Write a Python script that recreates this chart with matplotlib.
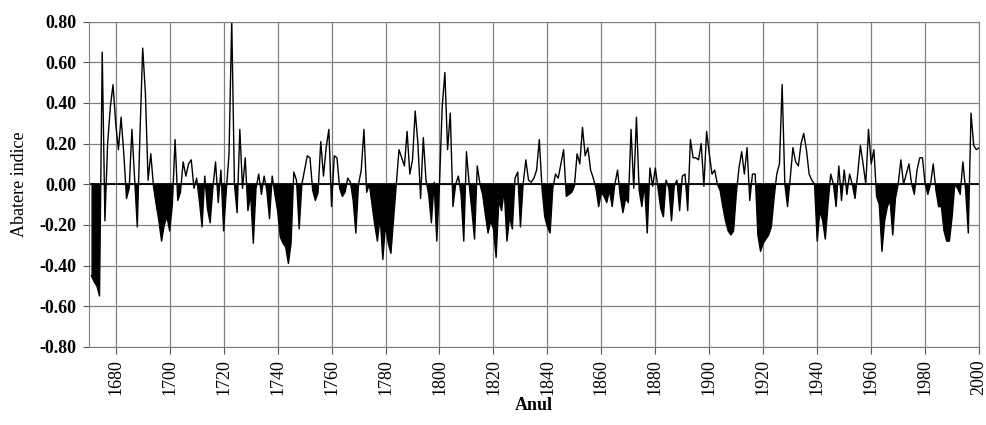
import numpy as np
import matplotlib
matplotlib.use("Agg")
import matplotlib.pyplot as plt

# Annual index deviation, 1671-2000
START_YEAR = 1671
END_YEAR = 2000

DEVIATION = [
    # 1671-1680
    -0.45, -0.48, -0.50, -0.55, 0.65, -0.18, 0.20, 0.38, 0.49, 0.30,
    # 1681-1690
    0.17, 0.33, 0.15, -0.07, -0.02, 0.27, 0.03, -0.21, 0.25, 0.67,
    # 1691-1700
    0.45, 0.02, 0.15, -0.01, -0.10, -0.18, -0.28, -0.20, -0.16, -0.23,
    # 1701-1710
    -0.10, 0.22, -0.08, -0.04, 0.11, 0.04, 0.10, 0.12, -0.02, 0.03,
    # 1711-1720
    -0.08, -0.21, 0.04, -0.12, -0.19, -0.02, 0.11, -0.09, 0.07, -0.23,
    # 1721-1730
    -0.03, 0.15, 0.81, 0.00, -0.14, 0.27, -0.02, 0.13, -0.13, -0.05,
    # 1731-1740
    -0.29, -0.02, 0.05, -0.05, 0.04, -0.03, -0.17, 0.04, -0.05, -0.13,
    # 1741-1750
    -0.26, -0.29, -0.31, -0.39, -0.29, 0.06, 0.02, -0.22, 0.00, 0.07,
    # 1751-1760
    0.14, 0.13, -0.03, -0.08, -0.04, 0.21, 0.04, 0.18, 0.27, -0.11,
    # 1761-1770
    0.14, 0.13, -0.02, -0.06, -0.04, 0.03, 0.01, -0.08, -0.24, 0.00,
    # 1771-1780
    0.07, 0.27, -0.04, 0.00, -0.10, -0.20, -0.28, -0.16, -0.37, -0.20,
    # 1781-1790
    -0.29, -0.34, -0.17, 0.00, 0.17, 0.13, 0.09, 0.26, 0.05, 0.12,
    # 1791-1800
    0.36, 0.20, -0.07, 0.23, 0.02, -0.05, -0.19, 0.01, -0.28, 0.00,
    # 1801-1810
    0.38, 0.55, 0.17, 0.35, -0.11, 0.00, 0.04, -0.05, -0.28, 0.16,
    # 1811-1820
    0.00, -0.13, -0.27, 0.09, 0.00, -0.05, -0.15, -0.24, -0.18, -0.22,
    # 1821-1830
    -0.36, -0.08, -0.13, -0.03, -0.28, -0.16, -0.22, 0.03, 0.06, -0.21,
    # 1831-1840
    0.00, 0.12, 0.02, 0.01, 0.03, 0.07, 0.22, -0.02, -0.16, -0.21,
    # 1841-1850
    -0.24, -0.02, 0.05, 0.03, 0.10, 0.17, -0.06, -0.05, -0.04, -0.01,
    # 1851-1860
    0.15, 0.10, 0.28, 0.14, 0.18, 0.07, 0.03, -0.02, -0.11, -0.04,
    # 1861-1870
    -0.06, -0.09, -0.03, -0.11, 0.00, 0.07, -0.06, -0.14, -0.07, -0.09,
    # 1871-1880
    0.27, -0.02, 0.33, -0.03, -0.11, 0.00, -0.24, 0.08, -0.01, 0.08,
    # 1881-1890
    -0.02, -0.12, -0.16, 0.02, -0.02, -0.18, -0.01, 0.02, -0.13, 0.04,
    # 1891-1900
    0.05, -0.13, 0.22, 0.13, 0.13, 0.12, 0.20, -0.01, 0.26, 0.15,
    # 1901-1910
    0.05, 0.07, 0.00, -0.03, -0.11, -0.18, -0.23, -0.25, -0.23, -0.05,
    # 1911-1920
    0.08, 0.16, 0.05, 0.18, -0.08, 0.05, 0.05, -0.25, -0.33, -0.29,
    # 1921-1930
    -0.27, -0.25, -0.21, -0.07, 0.05, 0.10, 0.49, 0.00, -0.11, 0.03,
    # 1931-1940
    0.18, 0.11, 0.09, 0.20, 0.25, 0.17, 0.05, 0.02, 0.00, -0.28,
    # 1941-1950
    -0.13, -0.18, -0.27, -0.10, 0.05, 0.00, -0.11, 0.09, -0.08, 0.07,
    # 1951-1960
    -0.05, 0.05, 0.00, -0.07, 0.05, 0.19, 0.10, 0.00, 0.27, 0.10,
    # 1961-1970
    0.17, -0.06, -0.10, -0.33, -0.18, -0.11, -0.08, -0.25, -0.07, 0.00,
    # 1971-1980
    0.12, 0.00, 0.05, 0.10, 0.00, -0.05, 0.07, 0.13, 0.13, 0.00,
    # 1981-1990
    -0.05, 0.00, 0.10, -0.03, -0.11, -0.11, -0.23, -0.28, -0.28, -0.16,
    # 1991-2000
    0.00, -0.02, -0.05, 0.11, -0.03, -0.24, 0.35, 0.19, 0.17, 0.18,
]

X_TICKS = list(range(1680, 2001, 20))
Y_TICKS = [-0.8, -0.6, -0.4, -0.2, 0.0, 0.2, 0.4, 0.6, 0.8]

SERIF = ["Liberation Serif", "DejaVu Serif"]

years = np.arange(START_YEAR, END_YEAR + 1)
values = np.array(DEVIATION)

fig = plt.figure(figsize=(9.87, 4.25), dpi=100)
ax = fig.add_axes([0.0899, 0.184, 0.9021, 0.765])

# negative deviations filled solid, positive ones only outlined
ax.fill_between(years, values, 0, where=values < 0, interpolate=True,
                color="black", linewidth=0)
ax.plot(years, values, color="black", linewidth=1.0)
ax.axhline(0, color="black", linewidth=1.3)

ax.set_xlim(1670, 2000)
ax.set_ylim(-0.8, 0.8)
ax.set_xticks(X_TICKS)
ax.set_yticks(Y_TICKS)
ax.set_xticklabels([str(y) for y in X_TICKS], rotation=90,
                   family=SERIF, fontsize=13)
ax.set_yticklabels([f"{v:.2f}" for v in Y_TICKS],
                   family=SERIF, fontsize=13, fontweight="bold")
ax.tick_params(axis="x", direction="out", length=5, color="#555555", pad=4)
ax.tick_params(axis="y", direction="out", length=4, color="#555555", pad=5)

ax.grid(True, color="#808080", linewidth=0.9)
ax.set_axisbelow(True)
for side in ["left", "bottom", "right", "top"]:
    ax.spines[side].set_color("#808080")

ax.set_xlabel("Anul", family=SERIF, fontsize=13, fontweight="bold",
              labelpad=1)
ax.set_ylabel("Abatere indice", family=SERIF, fontsize=13, labelpad=8)

fig.savefig("out.png", dpi=100)
